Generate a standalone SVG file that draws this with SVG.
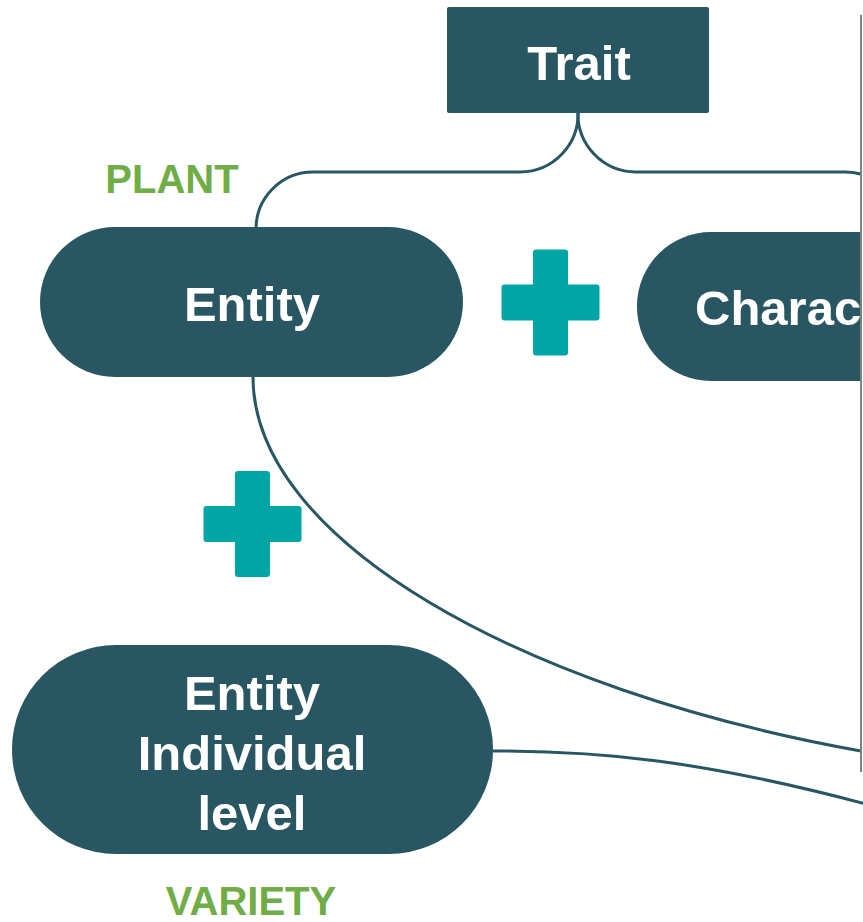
<svg xmlns="http://www.w3.org/2000/svg" width="863" height="922" viewBox="0 0 863 922">
  <style>
    .node { fill: #285662; }
    .label { fill: #ffffff; font-family: "Liberation Sans", Arial, sans-serif; font-weight: bold; font-size: 49px; text-anchor: middle; }
    .tag { fill: #70ad47; font-family: "Liberation Sans", Arial, sans-serif; font-weight: bold; font-size: 40px; text-anchor: middle; }
    .link { fill: none; stroke: #285662; stroke-width: 3; }
    .plus { fill: #00a6a6; }
  </style>
  <defs>
    <clipPath id="panel">
      <rect x="0" y="0" width="861" height="922"/>
    </clipPath>
    <g id="cross">
      <rect x="-17.5" y="-53" width="35" height="106" rx="3"/>
      <rect x="-49" y="-18" width="98" height="36" rx="3"/>
    </g>
  </defs>
  <rect width="863" height="922" fill="#ffffff"/>

  <!-- connectors -->
  <g id="connectors">
    <g clip-path="url(#panel)">
      <path class="link" d="M578,112 A58,58 0 0 1 520,172 L313,172 A57,57 0 0 0 256,229"/>
      <path class="link" d="M578,112 A58,58 0 0 0 636,172 L845,172 A57,57 0 0 1 902,229"/>
      <path class="link" d="M253,377 C253,540 520,690 861,751"/>
    </g>
    <path class="link" d="M493,751 C600,751 700,760 866,804"/>
  </g>

  <!-- nodes -->
  <g id="trait">
    <rect class="node" x="447" y="7" width="262" height="106" rx="2"/>
    <text class="label" x="579" y="80">Trait</text>
  </g>

  <g id="entity">
    <rect class="node" x="40" y="227" width="423" height="150" rx="75"/>
    <text class="label" x="252" y="321">Entity</text>
  </g>

  <g id="characteristic" clip-path="url(#panel)">
    <rect class="node" x="637" y="232" width="400" height="149" rx="74"/>
    <text class="label" x="695" y="325" style="text-anchor:start">Charac</text>
  </g>

  <g id="entity-individual">
    <rect class="node" x="12" y="645" width="481" height="209" rx="104"/>
    <text class="label" x="252" y="710">Entity</text>
    <text class="label" x="252" y="770">Individual</text>
    <text class="label" x="252" y="830">level</text>
  </g>

  <!-- plus signs -->
  <g id="plus-right" class="plus"><use href="#cross" x="550.5" y="302.5"/></g>
  <g id="plus-down" class="plus"><use href="#cross" x="252.5" y="524"/></g>

  <!-- level tags -->
  <g id="tag-plant"><text class="tag" x="172" y="193">PLANT</text></g>
  <g id="tag-variety"><text class="tag" x="251" y="915">VARIETY</text></g>

  <!-- panel edge -->
  <line x1="861" y1="15" x2="861" y2="772" stroke="#808080" stroke-width="2"/>
</svg>
